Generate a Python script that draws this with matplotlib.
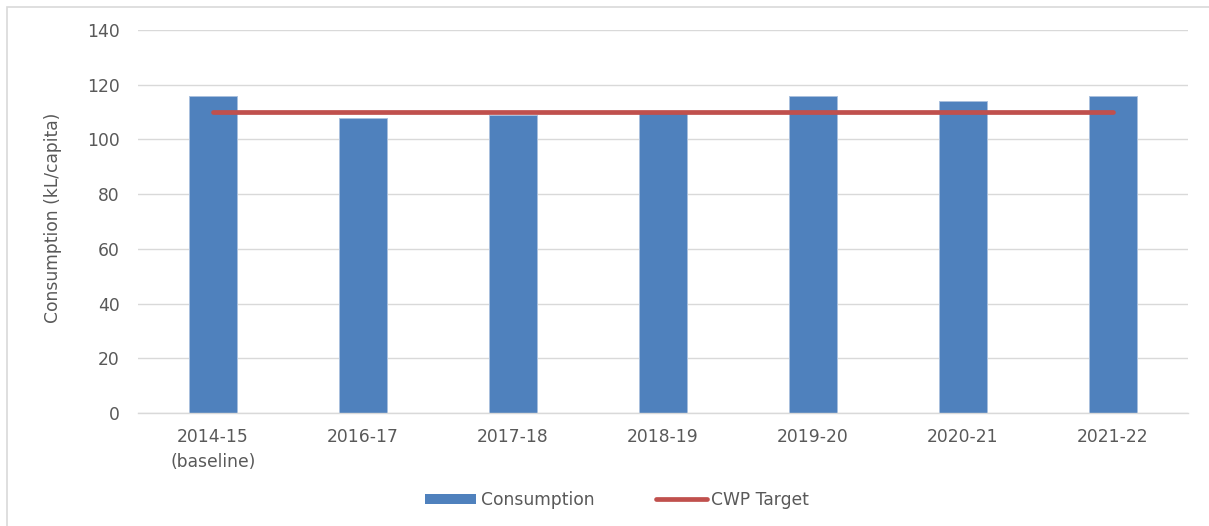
import numpy as np
import matplotlib.pyplot as plt
from matplotlib.patches import Rectangle, Patch
from matplotlib.lines import Line2D

plt.rcParams['font.family'] = ['DejaVu Sans']

years = ['2014-15\n(baseline)', '2016-17', '2017-18', '2018-19', '2019-20', '2020-21', '2021-22']
consumption = [116, 108, 108.8, 110, 116, 114, 116]
cwp_target = [110, 110, 110, 110, 110, 110, 110]

W, H = 1209, 526
fs = 12.3
grey = '#595959'
fig = plt.figure(figsize=(W / 100, H / 100), dpi=100)
ax = fig.add_axes([138 / W, 1 - 413 / H, 1050 / W, 383 / H])

x = np.arange(len(years))
ax.bar(x, consumption, width=0.32, color='#4f81bd', edgecolor='#a9c0de', linewidth=0.7, zorder=2)
ax.plot(x, cwp_target, color='#c0504d', linewidth=3.4, solid_capstyle='round', zorder=3)

ax.set_xlim(-0.5, len(years) - 0.5)
ax.set_ylim(0, 140)
ax.set_yticks(np.arange(0, 141, 20))
ax.set_xticks(x)
ax.set_xticklabels(years, linespacing=1.45)
ax.grid(axis='y', color='#d9d9d9', linewidth=1.0, zorder=0)
ax.set_axisbelow(True)
for s in ['top', 'right', 'left']:
    ax.spines[s].set_visible(False)
ax.spines['bottom'].set_color('#d9d9d9')
ax.spines['bottom'].set_linewidth(1.0)
ax.tick_params(axis='both', length=0, labelsize=fs, colors=grey)
ax.tick_params(axis='y', pad=13)
ax.tick_params(axis='x', pad=11)

ax.set_ylabel('Consumption (kL/capita)', fontsize=fs, color=grey)
ax.yaxis.set_label_coords(-0.072, 0.51)

handles = [Patch(facecolor='#4f81bd', edgecolor='none'),
           Line2D([0], [0], color='#c0504d', linewidth=3.4, solid_capstyle='round')]
fig.legend(handles, ['Consumption', 'CWP Target'], loc='center', ncol=2,
           bbox_to_anchor=(617 / W, 1 - 500 / H), frameon=False, fontsize=fs,
           labelcolor=grey, handlelength=3.0, handletextpad=0.25,
           columnspacing=3.6, handleheight=0.6)

# outer chart border (cropped on right and bottom)
fig.patches.append(Rectangle((7 / W, -0.1), 1.2, 1 - 7 / H + 0.1, transform=fig.transFigure,
                             fill=False, edgecolor='#d9d9d9', linewidth=1.2))

fig.savefig('out.png', dpi=100)
